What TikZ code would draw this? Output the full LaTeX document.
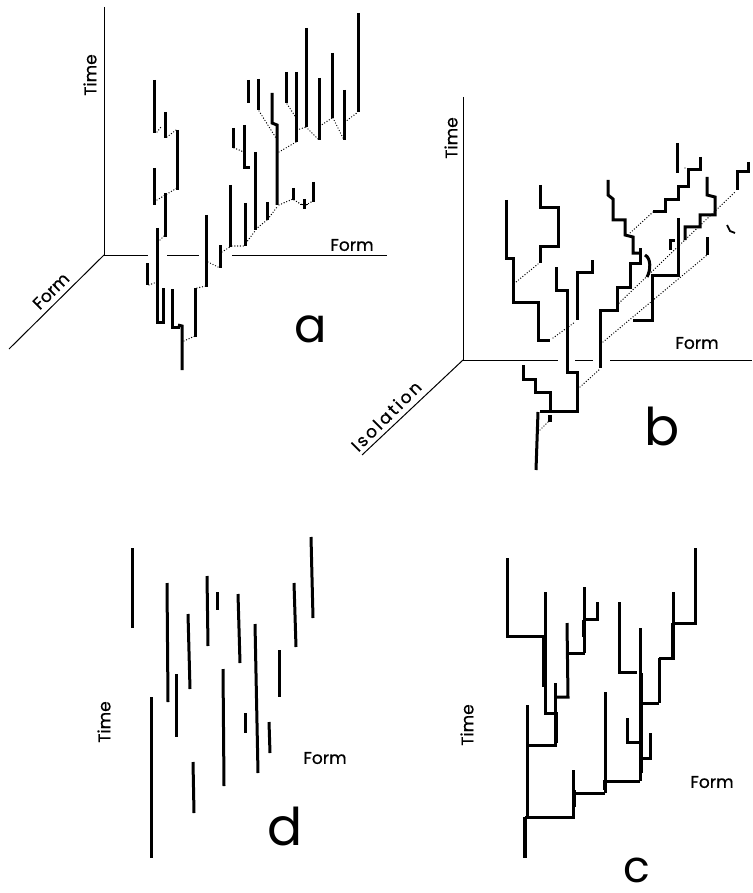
\documentclass[tikz,border=0pt]{standalone}
\usepackage{fontspec}
\newfontfamily\labelfont{Poppins}[FakeBold=0.6]
\newfontfamily\isofont{Poppins}[FakeBold=0.6, LetterSpace=14]
\newfontfamily\panelfont{Poppins}
\begin{document}
\begin{tikzpicture}[x=1pt,y=-1pt]
\tikzset{
  axis/.style={line width=1pt},
  stem/.style={line width=3pt, line cap=butt, line join=miter},
  heavy/.style={line width=4.4pt, line cap=butt},
  dots/.style={line width=1.4pt, line cap=round, dash pattern=on 0pt off 2.8pt},
  axlabel/.style={font=\labelfont\fontsize{17}{17}\selectfont, inner sep=0pt},
  panel/.style={font=\panelfont\fontsize{48}{48}\selectfont, inner sep=0pt},
}
\useasboundingbox (0,0) rectangle (752,893);

% ---------------- panel a : form x form x time ----------------
\draw[axis] (104,7) -- (104,255) -- (148,255);
\draw[axis] (167,255) -- (199,255);
\draw[axis] (232,255) -- (387,255);
\draw[axis] (104,255) -- (9,349);
\node[axlabel, rotate=90] (aTime) at (90,75) {Time};
\node[axlabel] (aForm) at (352,245) {Form};
\node[axlabel, rotate=45] (aFormD) at (51,291) {Form};
\node[panel] (aLab) at (311,329) {a};

% lineages
\draw[stem] (154,80) -- (154,133);
\draw[stem] (165,112) -- (165,138);
\draw[stem] (177,130) -- (177,190);
\draw[stem] (154,168) -- (154,205);
\draw[stem] (165,193) -- (165,237);
\draw[stem] (157,228) -- (157,322) -- (165,322);
\draw[stem] (147,263) -- (147,285);
\draw[stem] (163,288) -- (163,322);
\draw[stem] (172,289) -- (172,327) -- (180,327);
\draw[stem] (178,325) -- (182,326) -- (182,370);
\draw[stem] (195,288) -- (195,337);
\draw[stem] (206,215) -- (206,287);
\draw[stem] (220,245) -- (220,268);
\draw[stem] (230,185) -- (230,247);
\draw[stem] (245,203) -- (245,246);
\draw[stem] (255,152) -- (255,230);
\draw[stem] (244,125) -- (244,168) -- (250,168);
\draw[stem] (233,128) -- (233,148);
\draw[stem] (267,202) -- (267,220);
\draw[stem] (272,93) -- (272,123) -- (277,125) -- (277,205);
\draw[stem] (248,80) -- (248,103);
\draw[stem] (258,79) -- (258,110);
\draw[stem] (286,72) -- (286,103);
\draw[stem] (296,72) -- (296,142);
\draw[stem] (306,28) -- (306,127);
\draw[stem] (319,78) -- (319,140);
\draw[stem] (332,53) -- (332,118);
\draw[stem] (344,90) -- (344,140);
\draw[stem] (358,13) -- (358,112);
\draw[stem] (293,188) -- (293,200);
\draw[stem] (304,199) -- (304,209);
\draw[axis] (300,205) -- (308,205);
\draw[stem] (313,182) -- (313,202);

% isolation links
\draw[dots] (157,132) -- (161,127);
\draw[dots] (167,137) -- (176,130);
\draw[dots] (157,200) -- (177,188);
\draw[dots] (158,242) -- (165,235);
\draw[dots] (149,285) -- (157,282);
\draw[dots] (184,341) -- (195,336);
\draw[dots] (197,288) -- (206,286);
\draw[dots] (208,262) -- (220,268);
\draw[dots] (222,252) -- (230,247);
\draw[dots] (232,246) -- (245,246);
\draw[dots] (246,243) -- (255,231);
\draw[dots] (256,229) -- (267,220);
\draw[dots] (268,219) -- (277,207);
\draw[dots] (279,205) -- (293,199);
\draw[dots] (294,200) -- (304,206) -- (313,201);
\draw[dots] (234,148) -- (244,152);
\draw[dots] (259,111) -- (276,138);
\draw[dots] (287,104) -- (297,119);
\draw[dots] (279,152) -- (296,142);
\draw[dots] (297,130) -- (306,127);
\draw[dots] (306,127) -- (319,140);
\draw[dots] (320,126) -- (332,118);
\draw[dots] (333,118) -- (344,140);
\draw[dots] (345,122) -- (358,112);

% ---------------- panel b : isolation x form x time ----------------
\draw[axis] (463,97) -- (463,360) -- (558,360);
\draw[axis] (575,360) -- (593,360);
\draw[axis] (610,360) -- (752,360);
\draw[axis] (463,360) -- (362,455);
\node[axlabel, rotate=90] (bTime) at (451,138) {Time};
\node[axlabel] (bForm) at (697,343) {Form};
\node[axlabel, font=\isofont\fontsize{17}{17}\selectfont, rotate=45] (bIso) at (386,416) {Isolation};
\node[panel, font=\panelfont\fontsize{52}{52}\selectfont] (bLab) at (662,426) {b};

\draw[stem] (506,200) -- (506,258) -- (513,258) -- (513,302) -- (538,302) -- (538,340) -- (550,340);
\draw[stem] (540,185) -- (540,208) -- (558,208) -- (558,246) -- (540,246) -- (540,263);
\draw[stem] (592,260) -- (592,272) -- (577,272) -- (577,320);
\draw[stem] (556,267) -- (556,290) -- (567,290) -- (567,372) -- (577,372) -- (577,411) -- (540,411);
\draw[stem] (523,365) -- (523,379) -- (535,379) -- (535,392) -- (550,392) -- (550,411);
\draw[stem] (538,412) -- (536,470);
\draw[heavy] (550,415) -- (550,422);
\draw[stem] (600,368) -- (600,310) -- (617,310) -- (617,287) -- (630,287) -- (630,263) -- (640,263) -- (640,248);
\draw[stem] (608,180) -- (608,195) -- (613,199) -- (613,220) -- (625,220) -- (625,235) -- (633,237) -- (633,253) -- (640,253);
\draw[stem] (645,255) .. controls (651,258) and (651,270) .. (647,277);
\draw[stem] (678,218) -- (678,275) -- (652,275) -- (652,320) -- (633,320);
\draw[stem] (707,237) -- (707,255);
\draw[stem] (707,177) -- (707,195) -- (715,197) -- (715,215) -- (700,215) -- (700,227) -- (685,227) -- (685,240);
\draw[stem] (670,250) -- (670,240) -- (675,240);
\draw[stem] (677,143) -- (677,173);
\draw[stem] (700,157) -- (700,170) -- (688,170) -- (688,187) -- (678,187) -- (678,200) -- (665,200) -- (665,212) -- (653,212);
\draw[stem] (748,162) -- (748,172) -- (737,172) -- (737,190);
\draw[line width=1.8pt] (727,225) -- (730,231) -- (735,233);

\draw[dots] (685,168) -- (686,168);
\draw[dots] (538,264) -- (516,282);
\draw[dots] (553,338) -- (575,322);
\draw[dots] (540,430) -- (550,420);
\draw[dots] (580,387) -- (600,369);
\draw[dots] (603,342) -- (707,255);
\draw[dots] (617,305) -- (735,192);
\draw[dots] (653,212) -- (630,233);

% ---------------- panel d : form x time ----------------
\node[axlabel, rotate=90] (dTime) at (104,722) {Time};
\node[axlabel] (dForm) at (325,758) {Form};
\node[panel, font=\panelfont\fontsize{52}{52}\selectfont] (dLab) at (285,826) {d};
\draw[stem] (132,548) -- (132,628);
\draw[stem] (167,583) -- (168,702);
\draw[stem] (176,674) -- (176,737);
\draw[stem] (151,697) -- (151,858);
\draw[stem] (188,614) -- (190,689);
\draw[stem] (207,576) -- (208,646);
\draw[stem] (217,592) -- (217,610);
\draw[stem] (238,594) -- (240,663);
\draw[stem] (193,762) -- (194,813);
\draw[stem] (223,669) -- (224,786);
\draw[stem] (245,713) -- (245,733);
\draw[stem] (255,624) -- (258,773);
\draw[stem] (269,722) -- (270,753);
\draw[stem] (279,650) -- (279,697);
\draw[stem] (294,583) -- (296,647);
\draw[stem] (311,537) -- (313,618);

% ---------------- panel c : form x time ----------------
\node[axlabel, rotate=90] (cTime) at (467,725) {Time};
\node[axlabel] (cForm) at (712,782) {Form};
\node[panel, font=\panelfont\fontsize{44}{44}\selectfont] (cLab) at (637,870) {c};
\draw[stem] (507,558) -- (507,636) -- (545,636);
\draw[stem] (545,592) -- (545,713) -- (555,713);
\draw[stem] (555,683) -- (555,745) -- (527,745);
\draw[stem] (567,623) -- (568,697) -- (555,697);
\draw[stem] (568,653) -- (585,653);
\draw[stem] (584,587) -- (584,653);
\draw[stem] (597,602) -- (597,619) -- (584,619);
\draw[stem] (527,705) -- (527,817);
\draw[stem] (525,817) -- (575,817);
\draw[stem] (573,770) -- (573,817);
\draw[stem] (573,793) -- (605,793);
\draw[stem] (605,692) -- (605,793);
\draw[stem] (605,781) -- (640,781);
\draw[stem] (640,628) -- (640,781);
\draw[stem] (619,602) -- (619,672) -- (637,672);
\draw[stem] (640,703) -- (659,703);
\draw[stem] (659,658) -- (659,703);
\draw[stem] (659,658) -- (673,658);
\draw[stem] (673,592) -- (673,660);
\draw[stem] (673,623) -- (697,623);
\draw[stem] (695,548) -- (695,624);
\draw[stem] (627,718) -- (627,742) -- (640,742);
\draw[stem] (650,733) -- (650,758) -- (642,758);
% thickened runs
\draw[heavy] (525,817) -- (525,858);
\draw[heavy] (544,636) -- (544,687);
\draw[heavy] (556,712) -- (556,743);
\draw[heavy] (584,620) -- (584,637);
\draw[heavy] (641,673) -- (641,773);
\draw[heavy] (673,623) -- (673,658);
\draw[heavy] (574,790) -- (574,807);
\draw[heavy] (605,780) -- (605,790);
\end{tikzpicture}
\end{document}
